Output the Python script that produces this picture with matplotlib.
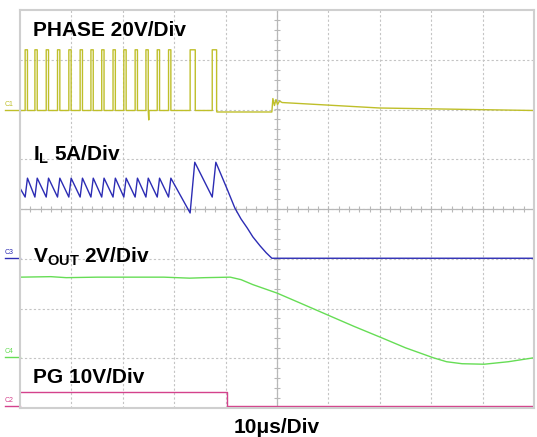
import numpy as np
import matplotlib
matplotlib.use("Agg")
import matplotlib.pyplot as plt

plt.rcParams["font.family"] = ["Liberation Sans", "DejaVu Sans"]
plt.rcParams["mathtext.fontset"] = "custom"
plt.rcParams["mathtext.rm"] = "Liberation Sans"
plt.rcParams["mathtext.bf"] = "Liberation Sans:bold"

# all values in scope divisions (x: 10 div of 10us, y: 8 div)
# PHASE channel: switching pulses
pulse_start = [0.10, 0.29, 0.51, 0.73, 0.95, 1.17, 1.38, 1.59, 1.81, 2.02,
               2.24, 2.45, 2.67, 2.89, 3.31, 3.74]
pulse_width = [0.045] * 14 + [0.10, 0.085]
phase_low = 5.98
phase_high = 7.20
phase_tail_t = [3.83, 4.90, 4.92, 4.95, 4.98, 5.01, 5.05, 5.10, 7.00, 10.0]
phase_tail_v = [5.95, 5.95, 6.22, 6.08, 6.20, 6.10, 6.17, 6.14, 6.03, 5.98]
spike_t, spike_v = 2.50, 5.79

# inductor current
il_t = [0.00, 0.10, 0.145, 0.29, 0.335, 0.51, 0.555, 0.73, 0.775, 0.95, 0.995,
        1.17, 1.215, 1.38, 1.425, 1.59, 1.635, 1.81, 1.855, 2.02, 2.065,
        2.24, 2.285, 2.45, 2.495, 2.67, 2.715, 2.89, 2.935,
        3.31, 3.40, 3.74, 3.81, 4.03, 4.18, 4.30, 4.42, 4.53, 4.67, 4.79,
        4.90, 10.0]
il_v = [4.42, 4.24, 4.62, 4.24, 4.62, 4.24, 4.62, 4.24, 4.62, 4.24, 4.62,
        4.24, 4.62, 4.24, 4.62, 4.24, 4.62, 4.24, 4.62, 4.24, 4.62,
        4.24, 4.62, 4.24, 4.62, 4.24, 4.62, 4.24, 4.62,
        3.92, 4.94, 4.24, 4.94, 4.40, 4.02, 3.80, 3.62, 3.44, 3.26, 3.12,
        3.01, 3.01]

# output voltage
vout_t = [0.00, 0.6, 0.9, 1.5, 2.2, 2.8, 3.3, 3.6, 4.09, 4.3, 4.53, 5.00,
          5.45, 6.03, 6.5, 7.04, 7.5, 8.04, 8.3, 8.6, 9.03, 9.5, 10.0]
vout_v = [2.63, 2.64, 2.62, 2.63, 2.63, 2.63, 2.61, 2.62, 2.63, 2.58, 2.48,
          2.31, 2.11, 1.85, 1.64, 1.41, 1.21, 1.01, 0.93, 0.89, 0.88, 0.93,
          1.01]

# power good
pg_t = [0.00, 4.03, 4.03, 10.0]
pg_v = [0.315, 0.315, 0.04, 0.04]

c_phase = "#bfbf2a"
c_il = "#2c2cb4"
c_vout = "#66dd55"
c_pg = "#d4428c"
c_grid = "#c4c4c4"

fig = plt.figure(figsize=(5.37, 4.37), dpi=100)
ax = fig.add_axes([20 / 537, 1 - 408 / 437, 514 / 537, 398 / 437])
ax.set_xlim(0, 10)
ax.set_ylim(0, 8)
ax.set_xticks([])
ax.set_yticks([])
for s in ax.spines.values():
    s.set_color("#cfcfcf")
    s.set_linewidth(1.5)

# graticule
for gx in range(1, 10):
    ax.axvline(gx, color=c_grid, lw=0.8, ls=(0, (2, 2)), zorder=0)
for gy in range(1, 8):
    ax.axhline(gy, color=c_grid, lw=0.8, ls=(0, (2, 2)), zorder=0)
ax.axvline(5, color="#b8b8b8", lw=0.9, zorder=0)
ax.axhline(4, color="#b8b8b8", lw=0.9, zorder=0)
tx = np.arange(0.2, 10, 0.2)
ty = np.arange(0.2, 8, 0.2)
ax.plot(tx, np.full_like(tx, 4), ls="none", marker="|", ms=4, mew=0.8, color="#b8b8b8", zorder=0)
ax.plot(np.full_like(ty, 5), ty, ls="none", marker="_", ms=4, mew=0.8, color="#b8b8b8", zorder=0)

# phase waveform built from pulse list
ph_t, ph_v = [0.0], [phase_low]
for st, w in zip(pulse_start, pulse_width):
    ph_t += [st, st, st + w, st + w]
    ph_v += [phase_low, phase_high, phase_high, phase_low]
    if abs(st + w - spike_t) < 0.02:
        ph_t += [spike_t + 0.005, spike_t + 0.01]
        ph_v += [spike_v, phase_low]
ph_t += phase_tail_t
ph_v += phase_tail_v

ax.plot(ph_t, ph_v, color=c_phase, lw=1.0)
ax.plot(il_t, il_v, color=c_il, lw=1.0)
ax.plot(vout_t, vout_v, color=c_vout, lw=1.0)
ax.plot(pg_t, pg_v, color=c_pg, lw=1.0)

# channel markers
for lab, lvl, col in [("C1", 5.98, c_phase), ("C3", 3.01, c_il),
                      ("C4", 1.02, c_vout), ("C2", 0.04, c_pg)]:
    ax.text(-0.22, lvl + 0.05, lab, color=col, fontsize=5, ha="center",
            va="bottom", clip_on=False)
    ax.plot([-0.3, 0.0], [lvl, lvl], color=col, lw=1.0, clip_on=False)

fs = 15
ax.text(0.25, 7.48, "PHASE 20V/Div", fontsize=fs, fontweight="bold", va="baseline")
ax.text(0.25, 4.98, r"$\mathbf{I_L}$ 5A/Div", fontsize=fs, fontweight="bold", va="baseline")
ax.text(0.25, 2.93, r"$\mathbf{V_{OUT}}$ 2V/Div", fontsize=fs, fontweight="bold", va="baseline")
ax.text(0.25, 0.50, "PG 10V/Div", fontsize=fs, fontweight="bold", va="baseline")
fig.text(277 / 537, 1 - 433 / 437, "10μs/Div", fontsize=fs, fontweight="bold",
         ha="center", va="baseline")

fig.savefig("out.png", dpi=100)
